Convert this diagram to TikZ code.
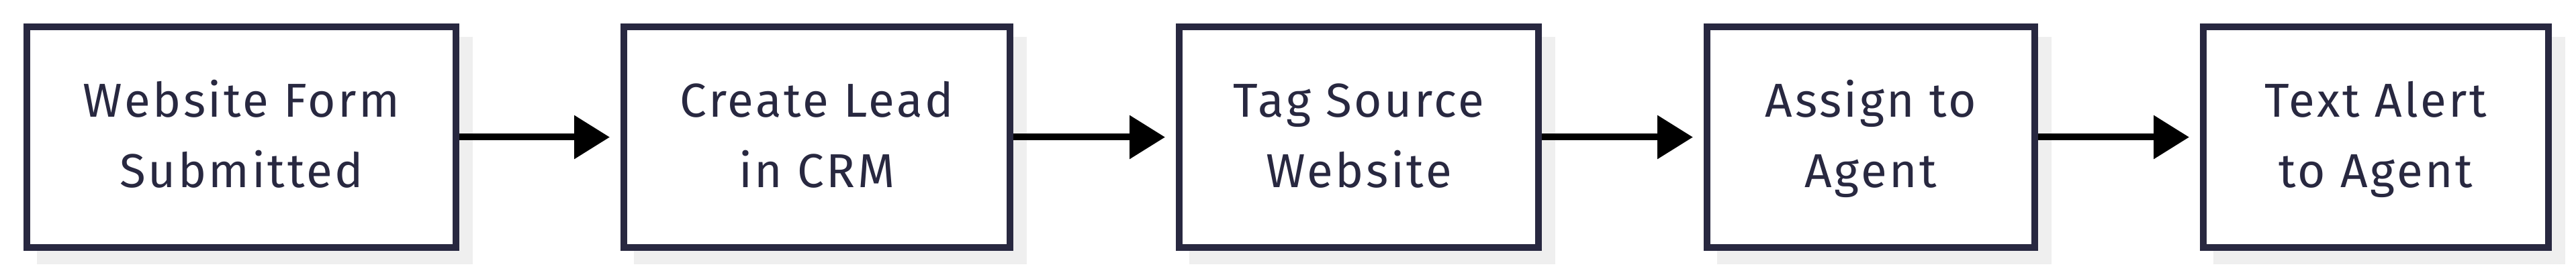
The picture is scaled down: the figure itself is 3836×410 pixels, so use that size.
\documentclass[tikz,border=0pt]{standalone}
\usepackage{fontspec}
\setmainfont[LetterSpace=5]{Fira Sans}
\usetikzlibrary{arrows.meta,backgrounds}
\definecolor{ink}{HTML}{282840}
\definecolor{shade}{HTML}{EFEFEF}
\newcommand\topstrut{\rule{0pt}{38pt}}
\newcommand\botstrut{\rule[-15pt]{0pt}{15pt}}
\tikzset{
  px/.style={x=0.5pt,y=-0.5pt},
  stepbox/.style={draw=ink,line width=5pt,fill=white,text=ink,
    minimum height=164.5pt,inner sep=0pt,align=center,
    font=\fontsize{35.5}{52.5}\selectfont},
  flow/.style={draw=black,line width=5pt,shorten >=8pt,
    -{Triangle[length=26.5pt,width=31.5pt]}},
  boxshadow/.style={fill=shade}
}
\begin{document}
\begin{tikzpicture}[px]
\useasboundingbox (0,0) rectangle (3836,410);
\node[stepbox,minimum width=319.5pt] (a) at (359.5,204.5) {\topstrut Website Form\\Submitted\botstrut};
\node[stepbox,minimum width=287.5pt] (b) at (1216.5,204.5) {\topstrut Create Lead\\in CRM\botstrut};
\node[stepbox,minimum width=267.5pt] (c) at (2023.5,204.5) {\topstrut Tag Source\\Website\botstrut};
\node[stepbox,minimum width=244pt] (d) at (2786,204.5) {\topstrut Assign to\\Agent\botstrut};
\node[stepbox,minimum width=257pt] (e) at (3538,204.5) {\topstrut Text Alert\\to Agent\botstrut};
\begin{scope}[on background layer]
\foreach \n in {a,b,c,d,e}{
  \fill[boxshadow] ([shift={(10pt,-10pt)}]\n.south west) rectangle ([shift={(10pt,-10pt)}]\n.north east);
}
\end{scope}
\draw[flow] (a.east) -- (b.west);
\draw[flow] (b.east) -- (c.west);
\draw[flow] (c.east) -- (d.west);
\draw[flow] (d.east) -- (e.west);
\end{tikzpicture}
\end{document}
